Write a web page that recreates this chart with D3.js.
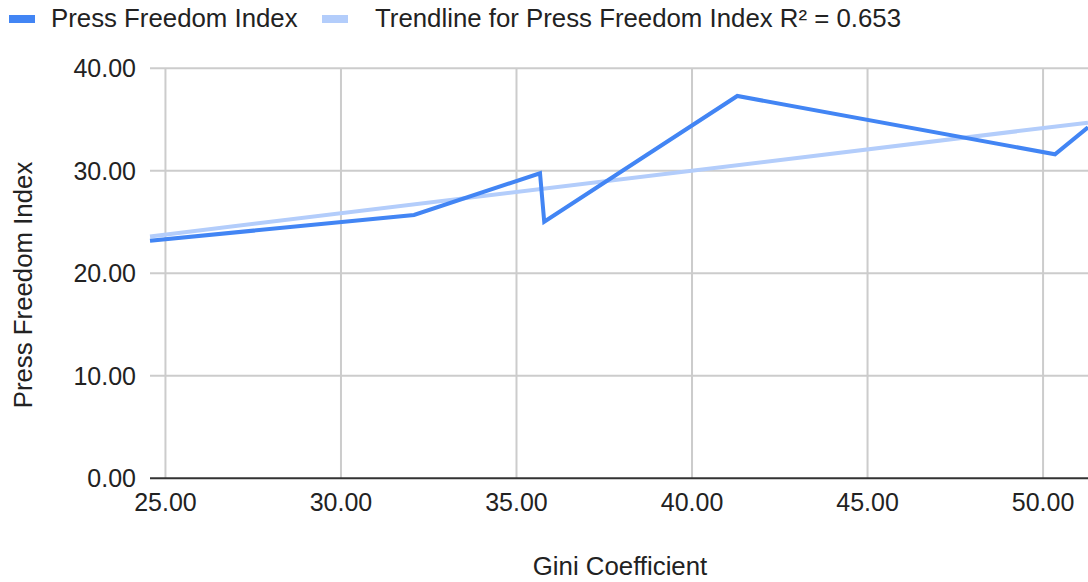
<!DOCTYPE html>
<html>
<head>
<meta charset="utf-8">
<script src="https://cdn.jsdelivr.net/npm/d3@7"></script>
<style>
  html, body { margin: 0; padding: 0; background: #fff; }
  svg { display: block; font-family: "Liberation Sans", Arial, Helvetica, sans-serif; }
</style>
</head>
<body>
<svg id="chart" width="1088" height="582"></svg>
<script>
// Data
const giniValues  = [24.56, 32.08, 35.67, 35.79, 41.29, 50.34, 51.28];
const pressValues = [23.18, 25.69, 29.76, 25.03, 37.30, 31.61, 34.24];
const trendX = [24.56, 51.28];
const trendY = [23.6, 34.7];
const xTicks = [25, 30, 35, 40, 45, 50];
const yTicks = [0, 10, 20, 30, 40];
const seriesName = "Press Freedom Index";
const trendName = "Trendline for Press Freedom Index R\u00B2 = 0.653";
const xTitle = "Gini Coefficient";
const yTitle = "Press Freedom Index";

const W = 1088, H = 582;
const m = { left: 150, right: 0, top: 68.3, bottom: 582 - 478.3 };
const svg = d3.select("#chart");

const x = d3.scaleLinear().domain([24.56, 51.28]).range([m.left, W - m.right]);
const y = d3.scaleLinear().domain([0, 40]).range([H - m.bottom, m.top]);

const fmt = d3.format(".2f");

// Gridlines
svg.append("g")
  .selectAll("line.h").data(yTicks.filter(d => d !== 0)).join("line")
  .attr("x1", m.left).attr("x2", W)
  .attr("y1", d => y(d)).attr("y2", d => y(d))
  .attr("stroke", "#cccccc").attr("stroke-width", 2);
svg.append("g")
  .selectAll("line.v").data(xTicks).join("line")
  .attr("x1", d => x(d)).attr("x2", d => x(d))
  .attr("y1", m.top).attr("y2", y(0))
  .attr("stroke", "#cccccc").attr("stroke-width", 2);

// Baseline
svg.append("line")
  .attr("x1", m.left).attr("x2", W)
  .attr("y1", y(0)).attr("y2", y(0))
  .attr("stroke", "#333333").attr("stroke-width", 2);

// Y tick labels
svg.append("g").selectAll("text").data(yTicks).join("text")
  .attr("x", 136).attr("y", d => y(d))
  .attr("dy", "0.35em")
  .attr("text-anchor", "end")
  .attr("font-size", 25).attr("fill", "#222")
  .text(d => fmt(d));

// X tick labels
svg.append("g").selectAll("text").data(xTicks).join("text")
  .attr("x", d => x(d)).attr("y", 511)
  .attr("text-anchor", "middle")
  .attr("font-size", 25).attr("fill", "#222")
  .text(d => fmt(d));

// Clip for plot
svg.append("clipPath").attr("id", "clip")
  .append("rect").attr("x", m.left - 4).attr("y", 0).attr("width", W).attr("height", H);

// Trendline
const trendData = trendX.map((d, i) => [d, trendY[i]]);
svg.append("path")
  .datum(trendData)
  .attr("clip-path", "url(#clip)")
  .attr("fill", "none")
  .attr("stroke", "#b3cdfb")
  .attr("stroke-width", 4)
  .attr("d", d3.line().x(d => x(d[0])).y(d => y(d[1])));

// Main series
const lineData = giniValues.map((d, i) => [d, pressValues[i]]);
svg.append("path")
  .datum(lineData)
  .attr("clip-path", "url(#clip)")
  .attr("fill", "none")
  .attr("stroke", "#4285f4")
  .attr("stroke-width", 4)
  .attr("stroke-linejoin", "miter")
  .attr("d", d3.line().x(d => x(d[0])).y(d => y(d[1])));

// Legend
const leg = svg.append("g");
leg.append("rect").attr("x", 9).attr("y", 15).attr("width", 26).attr("height", 8).attr("fill", "#4285f4");
leg.append("text").attr("x", 51).attr("y", 27).attr("font-size", 25.8).attr("fill", "#222").text(seriesName);
leg.append("rect").attr("x", 322).attr("y", 15).attr("width", 26).attr("height", 8).attr("fill", "#b3cdfb");
leg.append("text").attr("x", 375).attr("y", 27).attr("font-size", 25.8).attr("fill", "#222").text(trendName);

// Axis titles
svg.append("text")
  .attr("x", 620).attr("y", 575)
  .attr("text-anchor", "middle")
  .attr("font-size", 25.8).attr("fill", "#222")
  .text(xTitle);
svg.append("text")
  .attr("transform", "translate(32,285) rotate(-90)")
  .attr("text-anchor", "middle")
  .attr("font-size", 25.8).attr("fill", "#222")
  .text(yTitle);
</script>
</body>
</html>
